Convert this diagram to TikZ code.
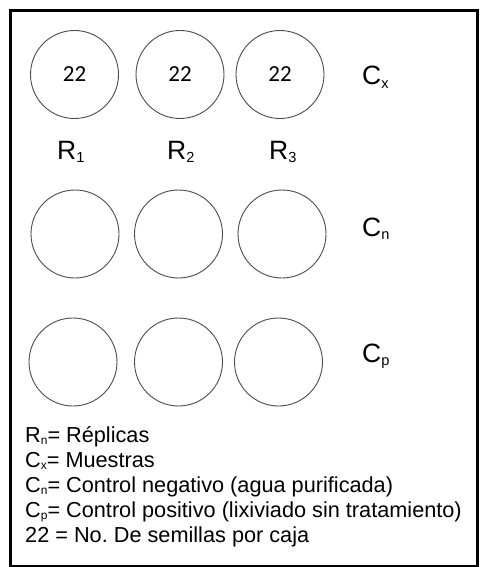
\documentclass[tikz,border=0pt]{standalone}
\usepackage{fontspec}
\setmainfont{Liberation Sans}
\newfontfamily\digitfont{Carlito}
\usepackage{graphicx}
\frenchspacing
\newcommand\subs[1]{\raisebox{-0.12em}{\scalebox{0.55}{#1}}}
\tikzset{
  dish/.style={circle, draw=black!70, line width=0.9pt, minimum size=88pt, inner sep=0pt,
    font=\digitfont\fontsize{23}{26}\selectfont},
  biglbl/.style={anchor=base west, inner sep=0pt, font=\fontsize{26.5}{30}\selectfont},
  legline/.style={anchor=base west, inner sep=0pt, font=\fontsize{21.7}{25}\selectfont},
  frame/.style={draw=black, line width=3pt}
}
\begin{document}
\begin{tikzpicture}[x=1pt,y=-1pt]
\useasboundingbox (0,0) rectangle (480,567);
\draw[frame] (10,10.5) rectangle (477.5,566);
% row Cx
\node[dish] (x1) at (74.5,74.5) {22};
\node[dish] (x2) at (180,74.5) {22};
\node[dish] (x3) at (280,74.5) {22};
\node[biglbl] (cx) at (362,85) {C\subs{x}};
% replicate labels
\node[biglbl] (r1) at (57,159) {R\subs{1}};
\node[biglbl] (r2) at (167,159) {R\subs{2}};
\node[biglbl] (r3) at (269,159) {R\subs{3}};
% row Cn
\node[dish] (n1) at (75,234) {};
\node[dish] (n2) at (178.5,234) {};
\node[dish] (n3) at (282,234) {};
\node[biglbl] (cn) at (362,236) {C\subs{n}};
% row Cp
\node[dish] (p1) at (73,362) {};
\node[dish] (p2) at (178.5,362) {};
\node[dish] (p3) at (278.5,362) {};
\node[biglbl] (cp) at (362,362) {C\subs{p}};
% legend
\node[legline] (l1) at (25,442) {R\subs{n}= Réplicas};
\node[legline] (l2) at (25,467) {C\subs{x}= Muestras};
\node[legline] (l3) at (25,492) {C\subs{n}= Control negativo (agua purificada)};
\node[legline] (l4) at (25,517) {C\subs{p}= Control positivo (lixiviado sin tratamiento)};
\node[legline] (l5) at (25,542) {22 = No. De semillas por caja};
\end{tikzpicture}
\end{document}
